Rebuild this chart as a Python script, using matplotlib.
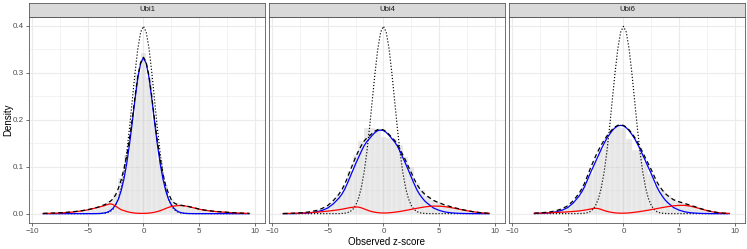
import numpy as np
import matplotlib
matplotlib.use("Agg")
import matplotlib.pyplot as plt

plt.rcParams['font.family'] = ['Liberation Sans', 'DejaVu Sans']

nan = np.nan
panels = ["Ubi1", "Ubi4", "Ubi6"]

# ---------- data ----------
# curve grid (observed z-score)
z_grid = [-9, -8.5, -8, -7.5, -7, -6.5, -6, -5.5, -5, -4.5,
          -4, -3.75, -3.5, -3.25, -3, -2.75, -2.5, -2.25, -2, -1.75, -1.5, -1.25, -1, -0.75, -0.5, -0.25,
          0, 0.25, 0.5, 0.75, 1, 1.25, 1.5, 1.75, 2, 2.25, 2.5, 2.75, 3, 3.25, 3.5, 3.75, 4,
          4.5, 5, 5.5, 6, 6.5, 7, 7.5, 8, 8.5, 9, 9.5]

# dotted: theoretical N(0,1) null
theo_null = [0, 0, 0, 0, 0, 0, 0, 0, 0, 0,
             .0001, .0004, .0009, .0020, .0044, .0091, .0175, .0317, .0540, .0863, .1295, .1826, .2420, .3011, .3521, .3867,
             .3989, .3867, .3521, .3011, .2420, .1826, .1295, .0863, .0540, .0317, .0175, .0091, .0044, .0020, .0009, .0004, .0001,
             0, 0, 0, 0, 0, 0, 0, 0, 0, 0, 0]

# blue: fitted null component
ubi1_null = [0, 0, 0, 0, 0, 0, 0, 0, 0, .0001,
             .0003, .0007, .0015, .003, .006, .011, .019, .031, .049, .074, .107, .148, .195, .245, .290, .320,
             .332, .320, .290, .245, .195, .148, .107, .074, .049, .031, .019, .011, .006, .003, .0015, .0007, .0003,
             .0001, 0, 0, 0, 0, 0, 0, 0, 0, 0, 0]
ubi4_null = [0, .0001, .0002, .0005, .001, .002, .0037, .007, .012, .021,
             .033, .041, .051, .064, .078, .092, .106, .119, .132, .144, .153, .160, .167, .173, .177, .178,
             .177, .173, .167, .160, .153, .144, .132, .119, .106, .092, .078, .064, .051, .041, .033, .026, .021,
             .012, .007, .0037, .002, .001, .0005, .0002, .0001, 0, 0, 0]
ubi6_null = [nan, nan, .0002, .0005, .0011, .002, .004, .0075, .013, .023,
             .037, .046, .057, .071, .085, .098, .111, .124, .137, .149, .160, .169, .177, .183, .187, .188,
             .187, .183, .177, .169, .160, .149, .137, .124, .111, .098, .085, .071, .057, .046, .037, .029, .023,
             .013, .0075, .004, .002, .0011, .0005, .0002, .0001, 0, 0, 0]

# red: non-null component
ubi1_alt = [.0004, .0006, .001, .0015, .0022, .003, .0045, .006, .0082, .011,
            .0138, .0155, .0172, .0192, .021, .0195, .016, .012, .0085, .0065, .0045, .003, .002, .0012, .0008, .0006,
            .0006, .0008, .0012, .002, .003, .0045, .0063, .0085, .011, .0133, .0152, .0163, .0170, .0173, .0170, .0163, .0153,
            .0125, .0095, .0073, .0057, .0045, .0036, .0028, .0020, .0014, .0009, .0005]
ubi4_alt = [.0003, .0005, .0008, .0012, .0017, .0024, .0032, .0042, .0054, .0068,
            .0084, .0094, .0105, .0117, .0128, .0137, .0142, .0140, .0125, .0102, .0080, .0058, .0042, .0030, .0021, .0016,
            .0014, .0015, .0018, .0024, .0031, .0039, .0048, .0058, .0069, .0080, .0092, .0103, .0114, .0125, .0135, .0144, .0152,
            .0161, .0160, .0150, .0132, .0110, .0086, .0063, .0043, .0027, .0015, .0007]
ubi6_alt = [nan, nan, .0009, .0012, .0016, .0021, .0026, .0032, .0038, .0047,
            .0058, .0065, .0074, .0085, .0097, .0108, .0115, .0108, .0090, .0068, .0050, .0036, .0025, .0017, .0012, .0010,
            .0010, .0012, .0016, .0022, .0029, .0037, .0046, .0055, .0065, .0075, .0086, .0097, .0108, .0119, .0130, .0140, .0150,
            .0166, .0177, .0176, .0160, .0132, .0098, .0066, .0040, .0022, .0011, .0006]

# dashed black: fitted mixture density
ubi1_mix = [.0006, .001, .0014, .002, .0027, .0037, .005, .0065, .0085, .011,
            .0145, .017, .019, .022, .026, .031, .040, .054, .072, .096, .124, .160, .202, .250, .293, .322,
            .333, .322, .293, .250, .200, .155, .117, .085, .060, .043, .030, .023, .020, .0185, .0175, .0165, .0155,
            .0128, .0098, .0076, .006, .0047, .0037, .0029, .0021, .0015, .001, .0006]
ubi4_mix = [.0003, .0006, .0010, .0017, .0027, .0044, .0069, .0112, .0174, .0278,
            .0414, .0504, .0615, .0757, .0908, .1057, .1202, .1330, .1445, .1542, .1610, .1658, .1712, .1760, .1791, .1796,
            .1784, .1745, .1688, .1624, .1561, .1479, .1368, .1248, .1129, .1000, .0872, .0743, .0624, .0535, .0465, .0404, .0362,
            .0281, .0230, .0187, .0152, .0120, .0091, .0065, .0044, .0027, .0015, .0007]
ubi6_mix = [nan, nan, .0011, .0017, .0027, .0041, .0066, .0107, .0168, .0277,
            .0428, .0525, .0644, .0795, .0947, .1088, .1225, .1348, .1460, .1558, .1650, .1726, .1795, .1847, .1882, .1890,
            .1880, .1842, .1786, .1712, .1629, .1527, .1416, .1295, .1175, .1055, .0936, .0807, .0678, .0579, .0500, .0430, .0380,
            .0296, .0252, .0216, .0180, .0143, .0103, .0068, .0041, .0022, .0011, .0006]

# histogram (binwidth 0.5)
bin_mid = [-9, -8.5, -8, -7.5, -7, -6.5, -6, -5.5, -5, -4.5, -4, -3.5, -3, -2.5, -2, -1.5, -1, -0.5,
           0, 0.5, 1, 1.5, 2, 2.5, 3, 3.5, 4, 4.5, 5, 5.5, 6, 6.5, 7, 7.5, 8, 8.5, 9, 9.5]
ubi1_hist = [.0005, .0008, .001, .0015, .002, .003, .0045, .006, .008, .011, .014, .018, .027, .042, .075, .125, .21, .30,
             .342, .29, .20, .115, .062, .032, .022, .018, .015, .012, .0095, .0075, .006, .0045, .0035, .0028, .002, .0014, .0009, .0005]
ubi4_hist = [.0005, .0007, .001, .0015, .0025, .004, .006, .010, .016, .025, .040, .06, .09, .125, .155, .182, .183, .18,
             .163, .161, .160, .147, .12, .10, .065, .05, .038, .03, .024, .019, .015, .012, .009, .0065, .0045, .003, .0015, .0007]
ubi6_hist = [0, 0, .001, .0015, .0025, .004, .006, .010, .014, .025, .040, .06, .085, .115, .138, .16, .178, .185,
             .183, .16, .135, .135, .11, .085, .06, .05, .04, .032, .027, .022, .018, .014, .01, .007, .0045, .0025, .0012, .0006]

series = {"Ubi1": (ubi1_hist, ubi1_null, ubi1_alt, ubi1_mix),
          "Ubi4": (ubi4_hist, ubi4_null, ubi4_alt, ubi4_mix),
          "Ubi6": (ubi6_hist, ubi6_null, ubi6_alt, ubi6_mix)}

# ---------- layout (pixels of a 747x249 canvas) ----------
W, H = 747, 249
lefts = [29, 269, 509]; pw = 236; top, bot = 17, 223; strip_top = 3
border = "#5a5a5a"

fig = plt.figure(figsize=(W / 100, H / 100), dpi=100)
zg = np.array(z_grid, float)
for i, name in enumerate(panels):
    hist, null, alt, mix = series[name]
    ax = fig.add_axes([lefts[i] / W, 1 - bot / H, pw / W, (bot - top) / H])
    ax.bar(bin_mid, hist, width=0.5, color=(0.78, 0.78, 0.78, 0.42), edgecolor=(1, 1, 1, 0.6), lw=0.3, zorder=1)
    keep = ~np.isnan(np.array(null, float))
    ax.plot(zg[keep], np.array(theo_null)[keep], color="black", ls=(0, (1, 1.6)), lw=0.85, zorder=3)
    ax.plot(z_grid, null, color="blue", lw=0.9, zorder=4)
    ax.plot(z_grid, alt, color="red", lw=0.9, zorder=4)
    ax.plot(z_grid, mix, color="black", ls=(0, (3.5, 2.5)), lw=0.9, zorder=5)
    ax.set_xlim(-10.28, 10.92); ax.set_ylim(-0.0199, 0.4188)
    ax.set_xticks([-10, -5, 0, 5, 10]); ax.set_xticks([-7.5, -2.5, 2.5, 7.5], minor=True)
    ax.set_yticks([0, .1, .2, .3, .4]); ax.set_yticks([.05, .15, .25, .35], minor=True)
    ax.set_yticklabels(["0.0", "0.1", "0.2", "0.3", "0.4"])
    ax.set_axisbelow(True)
    ax.grid(which="major", color="#EBEBEB", lw=0.8)
    ax.grid(which="minor", color="#EBEBEB", lw=0.4)
    ax.tick_params(which="minor", length=0)
    ax.tick_params(which="major", length=2, width=0.5, color="#333333", labelsize=5.8,
                   labelcolor="#4D4D4D", pad=1.5)
    if i > 0:
        ax.tick_params(axis="y", left=False, labelleft=False)
    for s in ax.spines.values():
        s.set_color(border); s.set_linewidth(0.6)
    # facet strip
    st = fig.add_axes([lefts[i] / W, 1 - top / H, pw / W, (top - strip_top) / H])
    st.set_facecolor("#D9D9D9"); st.set_xticks([]); st.set_yticks([])
    for s in st.spines.values():
        s.set_color(border); s.set_linewidth(0.6)
    st.text(0.5, 0.5, name, ha="center", va="center", fontsize=5.6, color="#1A1A1A", transform=st.transAxes)

fig.text(8 / W, 1 - 120 / H, "Density", rotation=90, ha="center", va="center", fontsize=7)
fig.text(387 / W, 1 - 242 / H, "Observed z-score", ha="center", va="center", fontsize=7)
fig.savefig("out.png", dpi=100)
